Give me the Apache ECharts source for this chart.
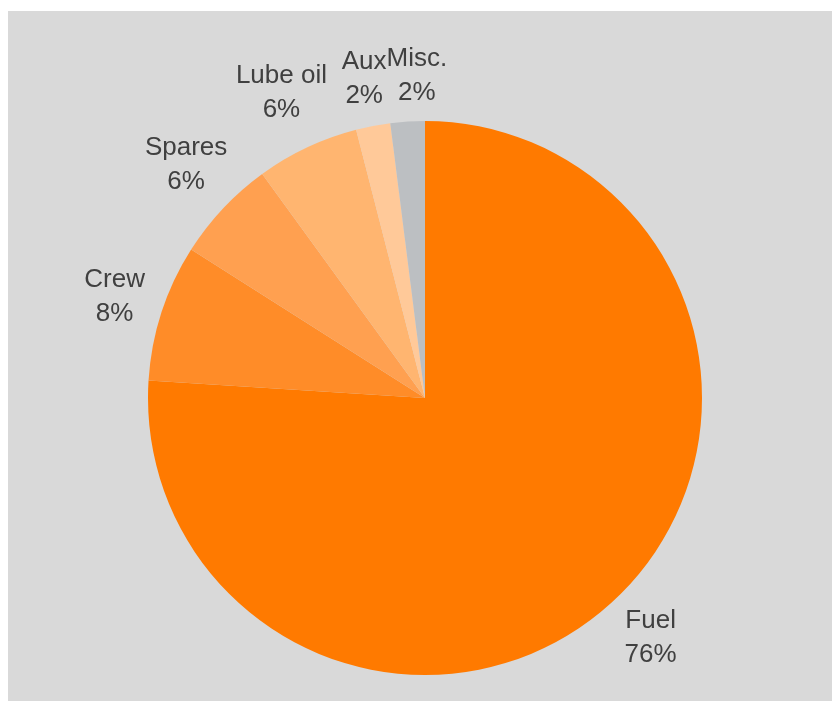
<!DOCTYPE html>
<html>
<head>
<meta charset="utf-8">
<title>Operating cost breakdown</title>
<script src="https://cdn.jsdelivr.net/npm/echarts@6/dist/echarts.min.js"></script>
<style>
  html, body { margin: 0; padding: 0; background: #ffffff; }
  #chart {
    position: absolute;
    left: 8px;
    top: 11px;
    width: 824px;
    height: 690px;
    background: #d9d9d9;
  }
</style>
</head>
<body>
<div id="chart"></div>
<script>
// Cost categories and their shares (percent of total)
const categories = ['Fuel', 'Crew', 'Spares', 'Lube oil', 'Aux', 'Misc.'];
const shares = [76, 8, 6, 6, 2, 2];
const sliceColors = ['#ff7a00', '#ff8c28', '#ffa050', '#ffb570', '#ffc999', '#bcbfc2'];

// Distance kept between the rim of the pie and the nearest side of a label box
const LABEL_GAP = 10;

const chart = echarts.init(document.getElementById('chart'), null, { renderer: 'canvas' });

const option = {
  backgroundColor: '#d9d9d9',
  animation: false,
  series: [{
    type: 'pie',
    center: [417, 387],
    radius: 277,
    startAngle: 90,
    clockwise: true,
    avoidLabelOverlap: false,
    silent: true,
    itemStyle: { borderWidth: 0 },
    label: {
      show: true,
      position: 'outside',
      color: '#404040',
      fontFamily: '"Liberation Sans", Arial, sans-serif',
      fontSize: 26,
      lineHeight: 34,
      formatter: p => p.name + '\n' + Math.round(p.percent) + '%'
    },
    // line kept only for its geometry; it is never visible
    labelLine: { show: true, length: 40, length2: 0, lineStyle: { opacity: 0 } },
    labelLayout: function (p) {
      const pts = p.labelLinePoints;
      if (!pts) return {};
      const vx = pts[1][0] - pts[0][0];
      const vy = pts[1][1] - pts[0][1];
      const len = Math.hypot(vx, vy) || 1;
      const dx = vx / len, dy = vy / len;
      const w = p.labelRect.width, h = p.labelRect.height;
      const reach = LABEL_GAP + Math.abs(dx) * w / 2 + Math.abs(dy) * h / 2;
      return {
        x: pts[0][0] + dx * reach,
        y: pts[0][1] + dy * reach,
        align: 'center',
        verticalAlign: 'middle',
        moveOverlap: 'shiftX'
      };
    },
    data: categories.map((name, i) => ({
      name: name,
      value: shares[i],
      itemStyle: { color: sliceColors[i] }
    }))
  }]
};

chart.setOption(option);
</script>
</body>
</html>
